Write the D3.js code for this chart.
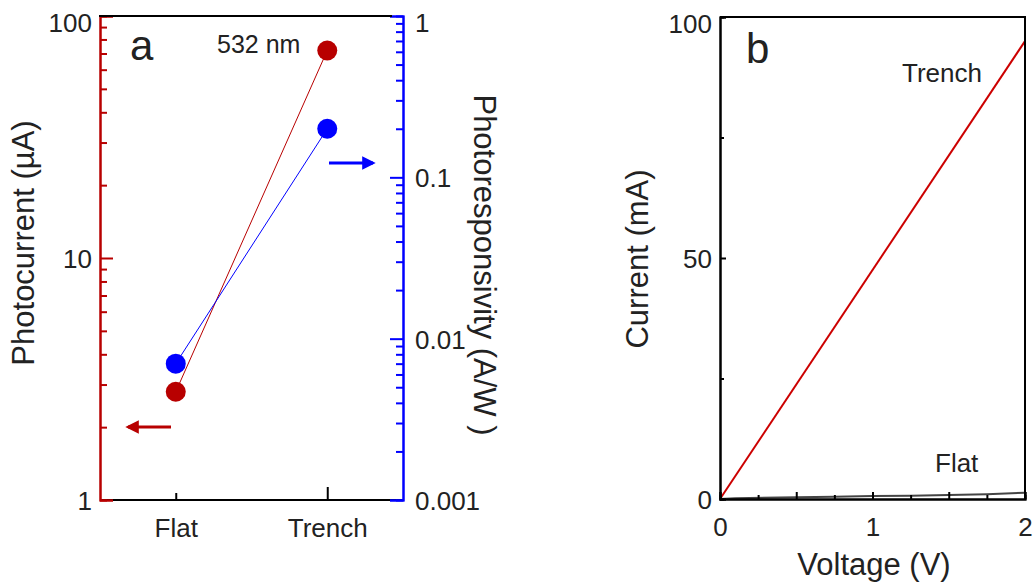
<!DOCTYPE html>
<html>
<head>
<meta charset="utf-8">
<script src="https://cdn.jsdelivr.net/npm/d3@7"></script>
<style>
  body { margin: 0; background: #fff; }
  text { font-family: "Liberation Sans", Arial, sans-serif; fill: #222; }
</style>
</head>
<body>
<div id="gr"></div>
<script>
// panel a data
var samples = ["Flat", "Trench"];
var photocurrent = [2.8, 72];        // µA
var responsivity = [0.0070, 0.20];   // A/W

// panel b data (I-V)
var voltTrench = [0, 2];
var currTrench = [0, 95];
var voltFlat = [0, 0.1, 0.5, 0.75, 1.0, 1.25, 1.5, 1.75, 2.0];
var currFlat = [0, 0.15, 0.35, 0.45, 0.6, 0.7, 0.85, 1.0, 1.3];

var red = "#b80000", blue = "#0000ff";
var width = 1035, height = 587;
var tickFont = "26px", titleFont = "31px";

var svg = d3.select("#gr").append("svg")
  .attr("width", width)
  .attr("height", height);

// ---------- panel a ----------
var ax = { left: 100, right: 403, top: 16, bottom: 500 };

var xA = d3.scalePoint().domain(samples).range([ax.left, ax.right]).padding(0.5);
var yL = d3.scaleLog().domain([1, 100]).range([ax.bottom, ax.top]);
var yR = d3.scaleLog().domain([0.001, 1]).range([ax.bottom, ax.top]);

var ga = svg.append("g");

function minors(lo, hi) {
  var out = [];
  for (var e = lo; e < hi; e *= 10)
    for (var k = 2; k <= 9; k++) out.push(e * k);
  return out;
}

// bottom axis
var xAxisA = ga.append("g")
  .attr("transform", "translate(0," + ax.bottom + ")")
  .call(d3.axisBottom(xA).tickSize(-7).tickPadding(19));
xAxisA.select(".domain").attr("d", "M" + ax.left + ",0H" + ax.right).attr("stroke", "#000").attr("stroke-width", 2);
xAxisA.selectAll(".tick line").attr("stroke", "#000").attr("stroke-width", 2)
  .attr("y2", function (d) { return d == "Trench" ? -13 : -7; });
xAxisA.selectAll("text").style("font-size", tickFont).attr("fill", "#222");

// left axis (red)
var lMinor = ga.append("g").attr("transform", "translate(" + ax.left + ",0)")
  .call(d3.axisLeft(yL).tickValues(minors(1, 100)).tickSize(-7).tickFormat(""));
var lMajor = ga.append("g").attr("transform", "translate(" + ax.left + ",0)")
  .call(d3.axisLeft(yL).tickValues([1, 10, 100]).tickSize(-13).tickPadding(8).tickFormat(d3.format("d")));
[lMinor, lMajor].forEach(function (g) {
  g.select(".domain").attr("stroke", red).attr("stroke-width", 2);
  g.selectAll(".tick line").attr("stroke", red).attr("stroke-width", 2);
});
lMajor.selectAll("text").style("font-size", tickFont).attr("fill", "#222").attr("dy", "0.36em")
  .attr("y", function (d) { return d == 100 ? 6 : 0; });

// right axis (blue)
var rMinor = ga.append("g").attr("transform", "translate(" + ax.right + ",0)")
  .call(d3.axisRight(yR).tickValues(minors(0.001, 1)).tickSize(-7).tickFormat(""));
var rMajor = ga.append("g").attr("transform", "translate(" + ax.right + ",0)")
  .call(d3.axisRight(yR).tickValues([0.001, 0.01, 0.1, 1]).tickSize(-13).tickPadding(12)
    .tickFormat(function (d) { return String(d); }));
[rMinor, rMajor].forEach(function (g) {
  g.select(".domain").attr("stroke", blue).attr("stroke-width", 2);
  g.selectAll(".tick line").attr("stroke", blue).attr("stroke-width", 2);
});
rMajor.selectAll("text").style("font-size", tickFont).attr("fill", "#222").attr("dy", "0.36em")
  .attr("y", function (d) { return d == 1 ? 6 : 0; });

// top frame line
ga.append("line").attr("x1", ax.left - 1).attr("x2", ax.right - 11).attr("y1", ax.top).attr("y2", ax.top)
  .attr("stroke", "#000").attr("stroke-width", 2);

// connecting lines
var lineL = d3.line().x(function (d, i) { return xA(samples[i]); }).y(function (d) { return yL(d); });
var lineR = d3.line().x(function (d, i) { return xA(samples[i]); }).y(function (d) { return yR(d); });

ga.append("path").attr("d", lineL(photocurrent)).attr("fill", "none").attr("stroke", red).attr("stroke-width", 1);
ga.append("path").attr("d", lineR(responsivity)).attr("fill", "none").attr("stroke", blue).attr("stroke-width", 1);

ga.selectAll("circle.pc").data(photocurrent).enter().append("circle")
  .attr("class", "pc")
  .attr("cx", function (d, i) { return xA(samples[i]); })
  .attr("cy", function (d) { return yL(d); })
  .attr("r", 10).attr("fill", red);
ga.selectAll("circle.rs").data(responsivity).enter().append("circle")
  .attr("class", "rs")
  .attr("cx", function (d, i) { return xA(samples[i]); })
  .attr("cy", function (d) { return yR(d); })
  .attr("r", 10).attr("fill", blue);

// arrows
var defs = svg.append("defs");
function arrowHead(id, col) {
  defs.append("marker").attr("id", id).attr("viewBox", "0 0 10 10")
    .attr("refX", 8).attr("refY", 5).attr("markerWidth", 4.5).attr("markerHeight", 4.5)
    .attr("markerUnits", "strokeWidth").attr("orient", "auto")
    .append("path").attr("d", "M0,0L10,5L0,10z").attr("fill", col);
}
arrowHead("ar", red);
arrowHead("ab", blue);
ga.append("line").attr("x1", 171).attr("x2", 128).attr("y1", 427).attr("y2", 427)
  .attr("stroke", red).attr("stroke-width", 3).attr("marker-end", "url(#ar)");
ga.append("line").attr("x1", 329).attr("x2", 373).attr("y1", 163).attr("y2", 163)
  .attr("stroke", blue).attr("stroke-width", 3).attr("marker-end", "url(#ab)");

// labels
ga.append("text").attr("x", 130).attr("y", 60).style("font-size", "42px").text("a");
ga.append("text").attr("x", 217).attr("y", 53).style("font-size", "25px").text("532 nm");

ga.append("text")
  .attr("transform", "translate(34,243) rotate(-90)")
  .attr("text-anchor", "middle").style("font-size", titleFont)
  .text("Photocurrent (µA)");
ga.append("text")
  .attr("transform", "translate(474,265) rotate(90)")
  .attr("text-anchor", "middle").style("font-size", titleFont)
  .text("Photoresponsivity (A/W )");

// ---------- panel b ----------
var bx = { left: 720, right: 1025, top: 17, bottom: 499 };

var xB = d3.scaleLinear().domain([0, 2]).range([bx.left, bx.right]);
var yB = d3.scaleLinear().domain([0, 100]).range([bx.bottom, bx.top]);

var gb = svg.append("g");

var lineB = d3.line().x(function (d) { return xB(d[0]); }).y(function (d) { return yB(d[1]); });

gb.append("path").attr("d", lineB(d3.zip(voltFlat, currFlat)))
  .attr("fill", "none").attr("stroke", "#444").attr("stroke-width", 2);
gb.append("path").attr("d", lineB(d3.zip(voltTrench, currTrench)))
  .attr("fill", "none").attr("stroke", "#cc0000").attr("stroke-width", 2);

var bxMinor = gb.append("g").attr("transform", "translate(0," + bx.bottom + ")")
  .call(d3.axisBottom(xB).tickValues([0.25, 0.75, 1.25, 1.75]).tickSize(-4).tickFormat(""));
var bxMajor = gb.append("g").attr("transform", "translate(0," + bx.bottom + ")")
  .call(d3.axisBottom(xB).tickValues([0, 0.5, 1, 1.5, 2]).tickSize(-7).tickPadding(19)
    .tickFormat(function (d) { return d % 1 === 0 ? d3.format("d")(d) : ""; }));
var byMinor = gb.append("g").attr("transform", "translate(" + bx.left + ",0)")
  .call(d3.axisLeft(yB).tickValues([25, 75]).tickSize(-4).tickFormat(""));
var byMajor = gb.append("g").attr("transform", "translate(" + bx.left + ",0)")
  .call(d3.axisLeft(yB).tickValues([0, 50, 100]).tickSize(-6).tickPadding(8));
[bxMinor, bxMajor, byMinor, byMajor].forEach(function (g) {
  g.select(".domain").attr("stroke", "#000").attr("stroke-width", 2);
  g.selectAll(".tick line").attr("stroke", "#000").attr("stroke-width", 2);
  g.selectAll("text").style("font-size", tickFont).attr("fill", "#222");
});
byMajor.selectAll("text").attr("dy", "0.36em")
  .attr("y", function (d) { return d == 100 ? 6 : 0; });

gb.append("path")
  .attr("d", "M" + bx.left + "," + bx.top + "H" + bx.right + "V" + bx.bottom)
  .attr("fill", "none").attr("stroke", "#000").attr("stroke-width", 2);

gb.append("text").attr("x", 746).attr("y", 63).style("font-size", "42px").text("b");
gb.append("text").attr("x", 902).attr("y", 82).style("font-size", tickFont).text("Trench");
gb.append("text").attr("x", 935).attr("y", 472).style("font-size", tickFont).text("Flat");

gb.append("text")
  .attr("transform", "translate(648,259) rotate(-90)")
  .attr("text-anchor", "middle").style("font-size", titleFont)
  .text("Current (mA)");
gb.append("text")
  .attr("x", 874).attr("y", 575)
  .attr("text-anchor", "middle").style("font-size", titleFont)
  .text("Voltage (V)");
</script>
</body>
</html>
